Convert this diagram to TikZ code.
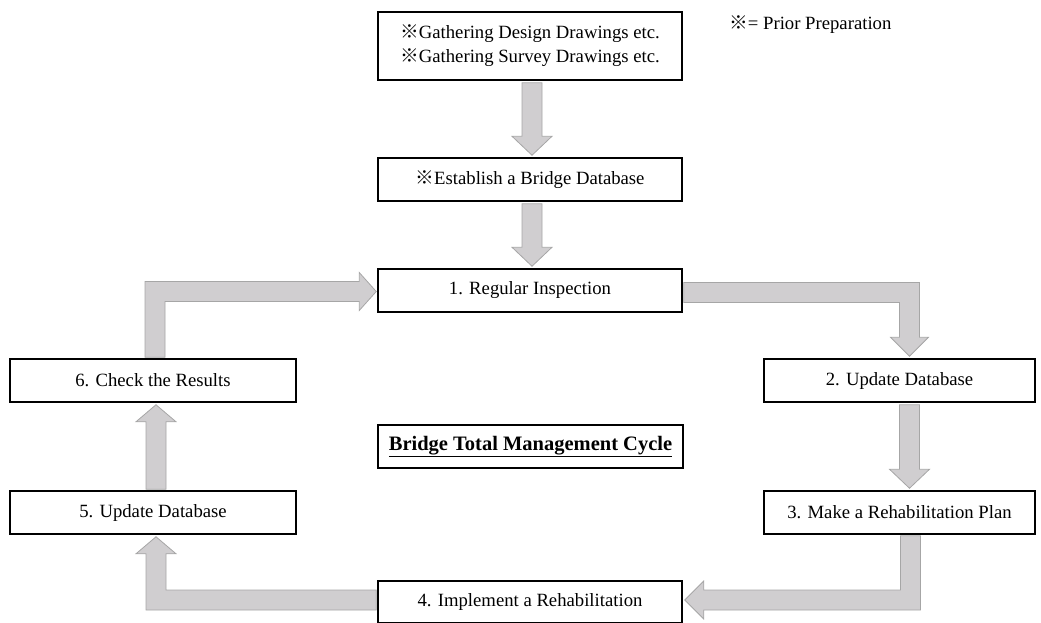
\documentclass[tikz,border=0pt]{standalone}
\usepackage{fontspec}
\setmainfont{Liberation Serif}
\newfontfamily\cjk{Noto Sans CJK JP}
\usetikzlibrary{calc}
\definecolor{arrfill}{RGB}{208,206,208}
\definecolor{arrline}{RGB}{166,166,166}
\newcommand\kome{{\cjk ※}}
% straight block arrows: #1 from node, #2 to node, #3 x offset
\newcommand\vdown[3]{\draw[blk] let \p1=(#1.south), \p2=(#2.north) in
  (\x1+#3pt-10pt,\y1-2pt) -- (\x1+#3pt+10pt,\y1-2pt) -- (\x1+#3pt+10pt,\y2+21pt) -- (\x1+#3pt+20pt,\y2+21pt) --
  (\x1+#3pt,\y2+2pt) -- (\x1+#3pt-20pt,\y2+21pt) -- (\x1+#3pt-10pt,\y2+21pt) -- cycle;}
\newcommand\vup[3]{\draw[blk] let \p1=(#1.north), \p2=(#2.south) in
  (\x1+#3pt-10pt,\y1+1pt) -- (\x1+#3pt+10pt,\y1+1pt) -- (\x1+#3pt+10pt,\y2-19pt) -- (\x1+#3pt+20pt,\y2-19pt) --
  (\x1+#3pt,\y2-2pt) -- (\x1+#3pt-20pt,\y2-19pt) -- (\x1+#3pt-10pt,\y2-19pt) -- cycle;}
\begin{document}
\begin{tikzpicture}[x=1pt,y=-1pt,
  every node/.style={font=\fontsize{18.7}{24}\selectfont},
  box/.style={draw=black,line width=1.5pt,fill=white,inner sep=0pt,align=center},
  blk/.style={fill=arrfill,draw=arrline,line width=0.8pt,line join=miter}]
\useasboundingbox (0,0) rectangle (1041,622);

\node[box,minimum width=304pt,minimum height=68pt] (pre) at (530,46)
  {\kome Gathering Design Drawings etc.\\\kome Gathering Survey Drawings etc.};
\node[anchor=west,inner sep=0pt] (note) at (729,25) {\kome= Prior Preparation};
\node[box,minimum width=304pt,minimum height=43pt] (est) at (530,179.5) {\kome Establish a Bridge Database};
\node[box,minimum width=304pt,minimum height=43pt] (n1) at (530,290.5) {1. Regular Inspection};
\node[box,minimum width=271pt,minimum height=43pt] (n2) at (899.5,380.5) {2. Update Database};
\node[box,minimum width=271pt,minimum height=43pt] (n3) at (899.5,512.5) {3. Make a Rehabilitation Plan};
\node[box,minimum width=304pt,minimum height=42pt] (n4) at (530,602) {4. Implement a Rehabilitation};
\node[box,minimum width=286pt,minimum height=43pt] (n5) at (153,512.5) {5. Update Database};
\node[box,minimum width=286pt,minimum height=43pt] (n6) at (153,380.5) {6. Check the Results};
\node[box,minimum width=305pt,minimum height=43pt,font=\fontsize{20.5}{24}\selectfont\bfseries] (title) at (530.5,446.5)
  {\underline{Bridge Total Management Cycle}};

\vdown{pre}{est}{2}
\vdown{est}{n1}{2}
\vdown{n2}{n3}{10}
\vup{n5}{n6}{3}

% 1 -> 2
\draw[blk] let \p1=(n1.east), \p2=(n2.north) in
  (\x1+1pt,\y1+8pt) -- (\x2+20pt,\y1+8pt) -- (\x2+20pt,\y2+21pt) -- (\x2+29pt,\y2+21pt) --
  (\x2+10pt,\y2+2pt) -- (\x2-9pt,\y2+21pt) -- (\x2,\y2+21pt) -- (\x2,\y1-12pt) -- (\x1+1pt,\y1-12pt) -- cycle;
% 3 -> 4
\draw[blk] let \p1=(n3.south), \p2=(n4.east) in
  (\x1+1pt,\y1-1pt) -- (\x1+21pt,\y1-1pt) -- (\x1+21pt,\y2-8pt) -- (\x2+21pt,\y2-8pt) -- (\x2+21pt,\y2-17pt) --
  (\x2+2pt,\y2+2pt) -- (\x2+21pt,\y2+21pt) -- (\x2+21pt,\y2+12pt) -- (\x1+1pt,\y2+12pt) -- cycle;
% 4 -> 5
\draw[blk] let \p1=(n4.west), \p2=(n5.south) in
  (\x1-1pt,\y1+12pt) -- (\x2+13pt,\y1+12pt) -- (\x2+13pt,\y2-19pt) -- (\x2+23pt,\y2-19pt) --
  (\x2+3pt,\y2-2pt) -- (\x2-17pt,\y2-19pt) -- (\x2-7pt,\y2-19pt) -- (\x2-7pt,\y1-8pt) -- (\x1-1pt,\y1-8pt) -- cycle;
% 6 -> 1
\draw[blk] let \p1=(n6.north), \p2=(n1.west) in
  (\x1-8pt,\y1+1pt) -- (\x1-8pt,\y2+9pt) -- (\x2-18pt,\y2+9pt) -- (\x2-18pt,\y2+18pt) --
  (\x2-1pt,\y2-1pt) -- (\x2-18pt,\y2-20pt) -- (\x2-18pt,\y2-11pt) -- (\x1+12pt,\y2-11pt) -- (\x1+12pt,\y1+1pt) -- cycle;
\end{tikzpicture}
\end{document}
